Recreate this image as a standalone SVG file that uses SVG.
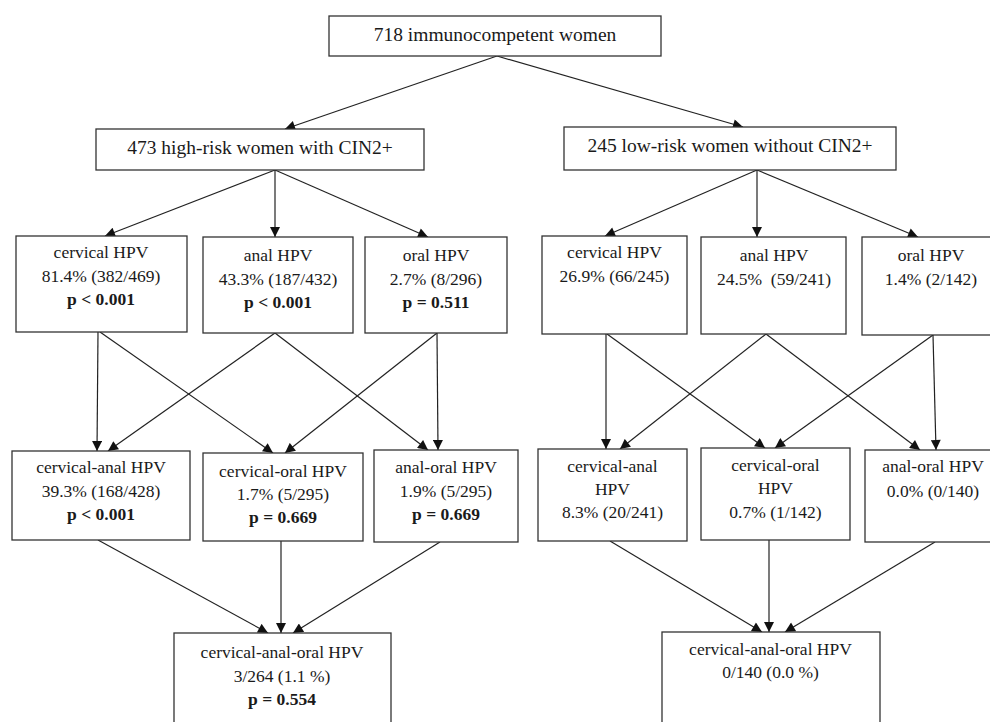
<svg xmlns="http://www.w3.org/2000/svg" width="990" height="722" viewBox="0 0 990 722">
<style>
.box{fill:#fff;stroke:#333;stroke-width:1.3}
text{font-family:"Liberation Serif","Times New Roman","DejaVu Serif",serif;fill:#1a1a1a;text-anchor:middle}
.h{font-size:19.5px}
.t{font-size:17.5px}
.b{font-weight:bold}
.c line{stroke:#222;stroke-width:1.2;marker-end:url(#ah)}
</style>
<defs>
<marker id="ah" markerUnits="userSpaceOnUse" viewBox="0 0 10 10" refX="10" refY="5" markerWidth="11" markerHeight="10" orient="auto">
<path d="M0,0 L10,5 L0,10 z" fill="#111"/>
</marker>
</defs>
<rect width="990" height="722" fill="#fff"/>
<g class="c" id="connectors">
<line x1="497" y1="56" x2="285" y2="129"/>
<line x1="497" y1="56" x2="743" y2="127"/>
<line x1="275" y1="170" x2="105" y2="236"/>
<line x1="275" y1="170" x2="275" y2="237"/>
<line x1="275" y1="170" x2="428" y2="237"/>
<line x1="757" y1="170" x2="605" y2="236"/>
<line x1="757" y1="170" x2="757" y2="237"/>
<line x1="757" y1="170" x2="918" y2="237"/>
<line x1="98" y1="332" x2="97" y2="451"/>
<line x1="100" y1="332" x2="273" y2="453"/>
<line x1="275" y1="333" x2="108" y2="451"/>
<line x1="275" y1="333" x2="428" y2="450"/>
<line x1="437" y1="333" x2="285" y2="453"/>
<line x1="437" y1="333" x2="438" y2="450"/>
<line x1="606" y1="334" x2="606" y2="449"/>
<line x1="607" y1="334" x2="765" y2="448"/>
<line x1="766" y1="334" x2="620" y2="449"/>
<line x1="766" y1="334" x2="920" y2="450"/>
<line x1="933" y1="335" x2="936" y2="450"/>
<line x1="933" y1="335" x2="775" y2="448"/>
<line x1="98" y1="540" x2="268" y2="633"/>
<line x1="281" y1="541" x2="281" y2="633"/>
<line x1="440" y1="542" x2="293" y2="633"/>
<line x1="610" y1="541" x2="762" y2="632"/>
<line x1="769" y1="540" x2="769" y2="632"/>
<line x1="935" y1="542" x2="785" y2="632"/>
</g>
<g id="top"><rect class="box" x="329" y="16" width="332" height="40"/><text class="h" x="495" y="41">718 immunocompetent women</text></g>
<g id="highrisk"><rect class="box" x="96" y="129" width="328" height="41"/><text class="h" x="260" y="154">473 high-risk women with CIN2+</text></g>
<g id="lowrisk"><rect class="box" x="564" y="127" width="332" height="43"/><text class="h" x="730" y="152">245 low-risk women without CIN2+</text></g>

<g id="hr-cervical"><rect class="box" x="16" y="236" width="171" height="96"/>
<text class="t" x="101" y="258">cervical HPV</text><text class="t" x="101" y="282">81.4% (382/469)</text><text class="t b" x="101" y="305">p &lt; 0.001</text></g>
<g id="hr-anal"><rect class="box" x="203" y="237" width="150" height="96"/>
<text class="t" x="278" y="261">anal HPV</text><text class="t" x="278" y="285">43.3% (187/432)</text><text class="t b" x="278" y="308">p &lt; 0.001</text></g>
<g id="hr-oral"><rect class="box" x="365" y="237" width="142" height="96"/>
<text class="t" x="436" y="261">oral HPV</text><text class="t" x="436" y="285">2.7% (8/296)</text><text class="t b" x="436" y="308">p = 0.511</text></g>

<g id="lr-cervical"><rect class="box" x="542" y="236" width="145" height="98"/>
<text class="t" x="614.5" y="258">cervical HPV</text><text class="t" x="614.5" y="282">26.9% (66/245)</text></g>
<g id="lr-anal"><rect class="box" x="701" y="237" width="145" height="97"/>
<text class="t" x="774" y="261">anal HPV</text><text class="t" x="774" y="285" xml:space="preserve">24.5%  (59/241)</text></g>
<g id="lr-oral"><rect class="box" x="862" y="237" width="138" height="98"/>
<text class="t" x="931" y="261">oral HPV</text><text class="t" x="931" y="285">1.4% (2/142)</text></g>

<g id="hr-cerv-anal"><rect class="box" x="12" y="451" width="178" height="89"/>
<text class="t" x="101" y="473">cervical-anal HPV</text><text class="t" x="101" y="497">39.3% (168/428)</text><text class="t b" x="101" y="520">p &lt; 0.001</text></g>
<g id="hr-cerv-oral"><rect class="box" x="203" y="453" width="160" height="88"/>
<text class="t" x="283" y="477">cervical-oral HPV</text><text class="t" x="283" y="500">1.7% (5/295)</text><text class="t b" x="283" y="523">p = 0.669</text></g>
<g id="hr-anal-oral"><rect class="box" x="374" y="450" width="144" height="92"/>
<text class="t" x="446" y="473">anal-oral HPV</text><text class="t" x="446" y="497">1.9% (5/295)</text><text class="t b" x="446" y="520">p = 0.669</text></g>

<g id="lr-cerv-anal"><rect class="box" x="538" y="449" width="149" height="92"/>
<text class="t" x="612.5" y="472">cervical-anal</text><text class="t" x="612.5" y="495">HPV</text><text class="t" x="612.5" y="518">8.3% (20/241)</text></g>
<g id="lr-cerv-oral"><rect class="box" x="701" y="448" width="149" height="92"/>
<text class="t" x="775.5" y="471">cervical-oral</text><text class="t" x="775.5" y="494">HPV</text><text class="t" x="775.5" y="518">0.7% (1/142)</text></g>
<g id="lr-anal-oral"><rect class="box" x="865" y="450" width="136" height="92"/>
<text class="t" x="933" y="472">anal-oral HPV</text><text class="t" x="933" y="497">0.0% (0/140)</text></g>

<g id="hr-all"><rect class="box" x="174" y="633" width="217" height="100"/>
<text class="t" x="282" y="658">cervical-anal-oral HPV</text><text class="t" x="282" y="682">3/264 (1.1 %)</text><text class="t b" x="282" y="705">p = 0.554</text></g>
<g id="lr-all"><rect class="box" x="662" y="632" width="218" height="100"/>
<text class="t" x="770.5" y="655">cervical-anal-oral HPV</text><text class="t" x="770.5" y="678">0/140 (0.0 %)</text></g>
</svg>
